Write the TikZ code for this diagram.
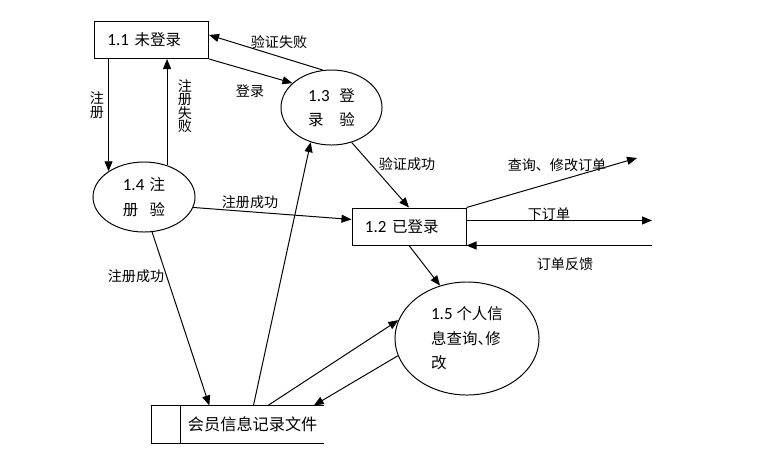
\documentclass[tikz,border=0pt]{standalone}
\usepackage{fontspec}
\setmainfont{Carlito}[Scale=1.1]
\newfontfamily\cjk{Noto Sans CJK SC}
\newfontfamily\cjkhalt{Noto Sans CJK SC}[RawFeature=+halt]
\usetikzlibrary{shapes.geometric,arrows.meta}

\begin{document}
\begin{tikzpicture}[
        x=0.025cm, y=-0.025cm, line width=0.7pt,
        statebox/.style = {rectangle, draw, minimum height=0.925cm, text width=2.2cm, inner xsep=0.325cm, align=left, font=\fontsize{11}{13}\selectfont},
        procnode/.style = {ellipse, draw, inner sep=0pt, align=left, font=\fontsize{11}{17.5}\selectfont},
        storebox/.style = {rectangle, minimum width=4.275cm, minimum height=0.925cm, inner sep=0pt},
        flow/.style = {-{Triangle[length=2.5mm,width=2mm]}},
        flowlabel/.style = {font=\cjk\fontsize{10}{9.6}\selectfont, inner sep=0pt, align=center}
        ]
        \useasboundingbox (0,0) rectangle (760,469);

        \node[statebox] (s11) at (151.5,40) {1.1 {\cjk 未登录}};
        \node[statebox] (s12) at (409,226.5) {1.2 {\cjk 已登录}};
        \node[procnode, minimum width=2.525cm, minimum height=1.875cm] (p13) at (331.5,107.5)
                {\makebox[0.78cm][l]{1.3}{\cjk 登}\\{\cjk \makebox[0.78cm][l]{录}验}};
        \node[procnode, minimum width=2.55cm, minimum height=1.75cm] (p14) at (144,197)
                {\makebox[0.67cm][l]{1.4}{\cjk 注}\\{\cjk \makebox[0.67cm][l]{册}验}};
        \node[procnode, minimum width=3.6cm, minimum height=2.825cm] (p15) at (467,338.5)
                {1.5 {\cjk 个人信}\\{\cjkhalt 息查询、修}\\{\cjk 改}};
        \node[storebox] (store) at (237.5,424.5) {};
        \draw (store.north east) -- (store.north west) -- (store.south west) -- (store.south east);
        \draw ([xshift=0.725cm]store.north west) -- ([xshift=0.725cm]store.south west);
        \node[anchor=west, inner sep=0pt, font=\cjk\fontsize{11.5}{13}\selectfont] (storetext) at ([xshift=0.9cm]store.west) {会员信息记录文件};

        \coordinate (qout) at (637,158);
        \coordinate (xdd) at (652,220);
        \coordinate (fkin) at (652,245);

        \draw[flow] (s11.south east) -- (p13.148);
        \draw[flow] (p13.103) -- (s11.5);
        \draw[flow] (p14.144 |- s11.south) -- (p14.144);
        \draw[flow] (p14.54) -- (p14.54 |- s11.south);
        \draw[flow] (p14.348) -- (s12.173);
        \draw[flow] (p14.283) -- (store.146);
        \draw[flow] (store.50) -- (p13.239);
        \draw[flow] (store.32) -- (p15.165);
        \draw[flow] (p15.194) -- (store.14);
        \draw[flow] (p13.300) -- (s12.north);
        \draw[flow] (s12.south) -- (p15.117);
        \draw[flow] (s12.north east) -- (qout);
        \draw[flow] (s12.6) -- (s12.6 -| xdd);
        \draw[flow] (fkin |- s12.south east) -- (s12.south east);

        \node[flowlabel] (l_dl) at (250,91) {登录};
        \node[flowlabel] (l_yzsb) at (279,42) {验证失败};
        \node[flowlabel] (l_zc) at (97,105) {注\\册};
        \node[flowlabel] (l_zcsb) at (185,106) {注\\册\\失\\败};
        \node[flowlabel] (l_zccg) at (250,202) {注册成功};
        \node[flowlabel] (l_zccg2) at (136,276) {注册成功};
        \node[flowlabel] (l_yzcg) at (407,164) {验证成功};
        \node[flowlabel] (l_cx) at (557,165) {查询、修改订单};
        \node[flowlabel] (l_xdd) at (549,214) {下订单};
        \node[flowlabel] (l_fk) at (565,264) {订单反馈};
\end{tikzpicture}
\end{document}
